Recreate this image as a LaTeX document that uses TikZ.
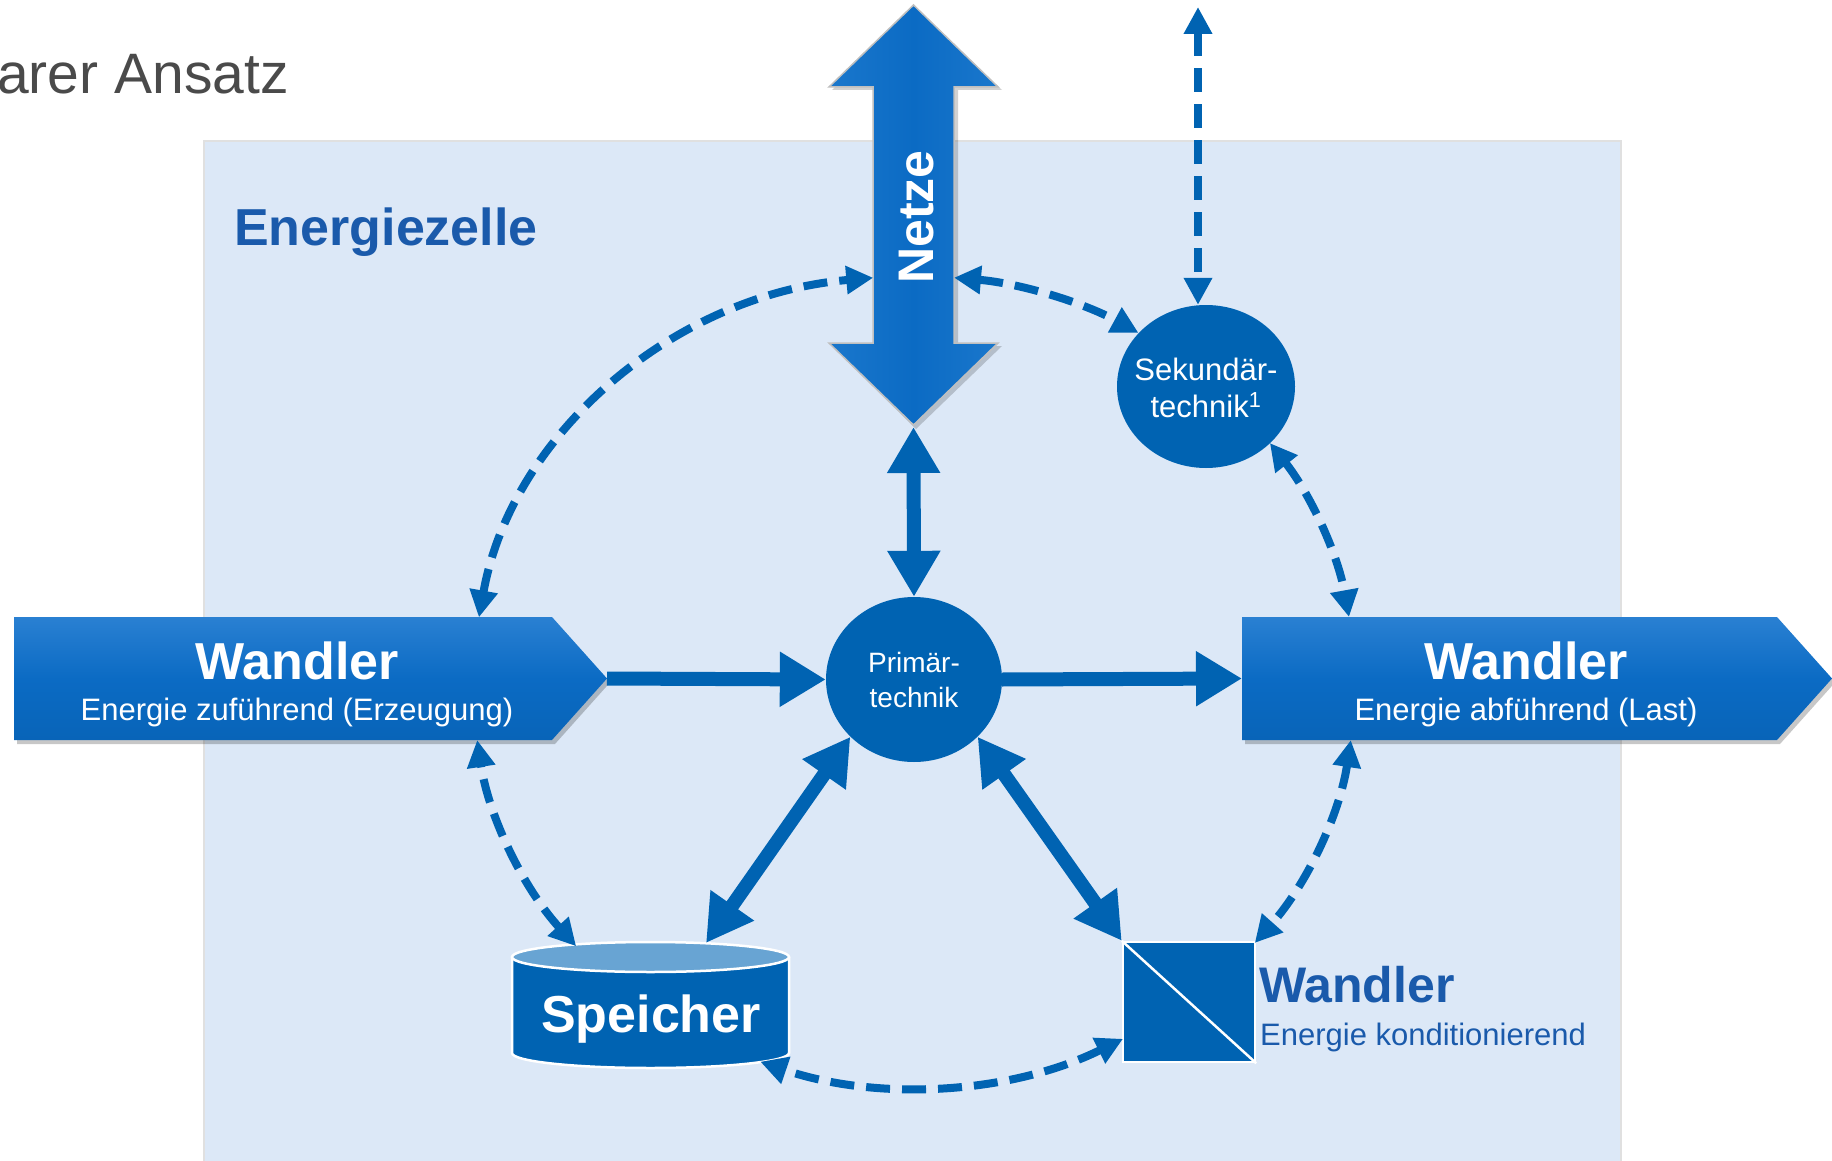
\documentclass[tikz,border=0pt]{standalone}
\usepackage{fontspec}
\setmainfont{Liberation Sans}
\usetikzlibrary{arrows.meta,shapes.geometric,calc}
\definecolor{bgblue}{HTML}{DCE8F7}
\definecolor{dblue}{HTML}{0063B2}
\definecolor{mblue}{HTML}{0B6BC4}
\definecolor{lblue}{HTML}{2A80D2}
\definecolor{sblue}{HTML}{1A77CC}
\definecolor{darkerblue}{HTML}{0864B8}
\definecolor{txtblue}{HTML}{1A5AAB}
\definecolor{topblue}{HTML}{68A4D3}
\definecolor{titlegray}{HTML}{4A4A4A}
\newcommand\myfs[1]{\fontsize{#1}{#1}\selectfont}
\tikzset{
  thickarrow/.style={draw=dblue, line width=14pt, {Triangle[length=46pt,width=50pt]}-{Triangle[length=46pt,width=50pt]}},
  onearrow/.style={draw=dblue, line width=14pt, -{Triangle[length=46pt,width=52pt]}},
  dasharrow/.style={draw=dblue, line width=8pt, dash pattern=on 24pt off 12pt, {Triangle[length=27pt,width=27pt]}-{Triangle[length=27pt,width=27pt]}},
  circnode/.style={ellipse, fill=dblue, inner sep=0pt},
  wtext/.style={text=white, inner sep=0pt, anchor=base},
  btext/.style={text=txtblue, inner sep=0pt, anchor=base west},
  bigarrowshade/.style={top color=lblue, bottom color=darkerblue, middle color=mblue},
}
\begin{document}
\begin{tikzpicture}[x=1pt,y=-1pt]
\useasboundingbox (0,0) rectangle (1832,1161);
% background cell
\fill[bgblue] (204,141) rectangle (1621,1161);
\draw[black!12, line width=1.5pt] (204,1161) -- (204,141) -- (1621,141) -- (1621,1161);

% title
\node[anchor=base west, inner sep=0pt, text=titlegray] (title) at (-3,94) {\myfs{57}arer Ansatz};
\node[btext] (ez) at (234,246) {\myfs{52}\bfseries Energiezelle};

% Netze double arrow
\fill[black, opacity=0.18] (916,8) -- (1002,90) -- (958,90) -- (958,346) -- (1002,346) -- (916,429) -- (832,346) -- (876,346) -- (876,90) -- (832,90) -- cycle;
\shade[left color=sblue, right color=sblue, middle color=mblue, draw=black!25, line width=1.5pt]
  (913.5,5) -- (998,87) -- (954,87) -- (954,343) -- (998,343) -- (913.5,425) -- (829,343) -- (873,343) -- (873,87) -- (829,87) -- cycle;
\coordinate (netzetip) at (913.5,427);
\node[rotate=90, text=white, inner sep=0pt] (netze) at (917,217) {\myfs{50}\bfseries Netze};

% left Wandler arrow
\fill[black, opacity=0.22] (17,621) -- (555,621) -- (610,682.5) -- (555,744) -- (17,744) -- cycle;
\shade[bigarrowshade] (14,617) -- (552,617) -- (607,678.5) -- (552,740) -- (14,740) -- cycle;
\coordinate (lwtip) at (607,678.5);
\node[wtext] (lw1) at (297,679) {\myfs{52}\bfseries Wandler};
\node[wtext] (lw2) at (297,720) {\myfs{31}Energie zuführend (Erzeugung)};

% right Wandler arrow
\fill[black, opacity=0.22] (1245,621) -- (1780,621) -- (1835,682.5) -- (1780,744) -- (1245,744) -- cycle;
\shade[bigarrowshade] (1242,617) -- (1777,617) -- (1832,678.5) -- (1777,740) -- (1242,740) -- cycle;
\coordinate (rwin) at (1242,678.5);
\node[wtext] (rw1) at (1526,679) {\myfs{52}\bfseries Wandler};
\node[wtext] (rw2) at (1526,720) {\myfs{31}Energie abführend (Last)};

% Primaertechnik
\node[circnode, minimum width=176pt, minimum height=165pt] (prim) at (914,679.5) {};
\node[wtext] (prim1) at (914,672) {\myfs{28}Primär-};
\node[wtext] (prim2) at (914,707) {\myfs{28}technik};

% Sekundaertechnik
\node[circnode, minimum width=178pt, minimum height=163pt] (sek) at (1206,386.5) {};
\node[wtext] (sek1) at (1206,380) {\myfs{31}Sekundär-};
\node[wtext] (sek2) at (1206,417) {\myfs{31}technik\textsuperscript{1}};

% Speicher cylinder
\fill[dblue] (512,957) -- (512,1053) arc[start angle=180,end angle=0,x radius=138.5,y radius=15] -- (789,957) -- cycle;
\draw[white, line width=2.5pt] (512,957) -- (512,1053) arc[start angle=180,end angle=0,x radius=138.5,y radius=15] -- (789,957);
\filldraw[fill=topblue, draw=white, line width=2.5pt] (650.5,957) ellipse[x radius=138.5, y radius=15];
\node[wtext] (spk) at (651,1032) {\myfs{52}\bfseries Speicher};
\coordinate (spktop) at (706,943);

% Wandler konditionierend square
\node[fill=dblue, draw=white, line width=2.5pt, minimum width=132pt, minimum height=120pt, inner sep=0pt] (sq) at (1189,1002) {};
\draw[white, line width=2.5pt] (sq.north west) -- (sq.south east);
\node[btext] (sqt1) at (1259,1002) {\myfs{50}\bfseries Wandler};
\node[btext] (sqt2) at (1260,1045) {\myfs{31}Energie konditionierend};

% solid connectors
\draw[onearrow] (lwtip) -- (prim.west);
\draw[onearrow] (prim.east) -- (rwin);
\draw[thickarrow] (prim.north) -- (netzetip);
\draw[thickarrow] (prim.-138) -- (spktop);
\draw[thickarrow] (prim.-42) -- (sq.north west);

% dashed ring
\coordinate (e1) at ({914+441*cos(189.4)},{684+408*sin(189.4)});
\draw[dasharrow] (e1) arc[start angle=189.4,end angle=264.7,x radius=441,y radius=408];
\coordinate (e2) at ({914+441*cos(275.2)},{684+408*sin(275.2)});
\draw[dasharrow] (e2) arc[start angle=275.2,end angle=300.6,x radius=441,y radius=408];
\coordinate (e3) at ({914+441*cos(323.8)},{684+408*sin(323.8)});
\draw[dasharrow] (e3) arc[start angle=323.8,end angle=350.55,x radius=441,y radius=408];
\coordinate (e4) at ({914+441*cos(7.9)},{684+408*sin(7.9)});
\draw[dasharrow] (e4) arc[start angle=7.9,end angle=39.4,x radius=441,y radius=408];
\coordinate (e5) at ({914+441*cos(61.7)},{684+403*sin(61.7)});
\draw[dasharrow] (e5) arc[start angle=61.7,end angle=110.4,x radius=441,y radius=403];
\coordinate (e6) at ({914+441*cos(140)},{684+408*sin(140)});
\draw[dasharrow] (e6) arc[start angle=140,end angle=172.1,x radius=441,y radius=408];

% vertical dashed to Sekundaertechnik
\coordinate (sektop) at (1198,7);
\draw[dasharrow] (sektop) -- (sektop |- sek.north);
\end{tikzpicture}
\end{document}
